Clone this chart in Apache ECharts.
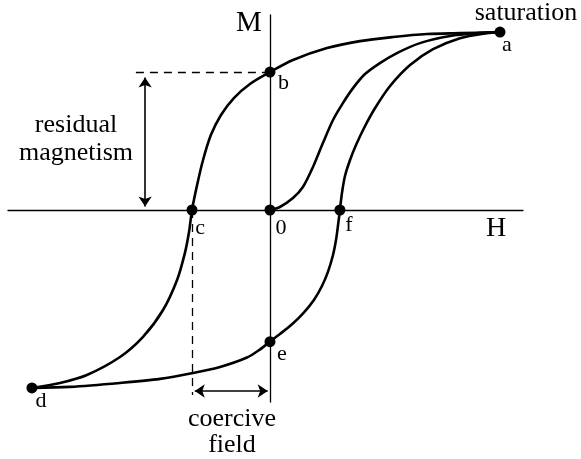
<!DOCTYPE html>
<html>
<head>
<meta charset="utf-8">
<script src="https://cdn.jsdelivr.net/npm/echarts@6/dist/echarts.min.js"></script>
<style>
  html, body { margin: 0; padding: 0; background: #fff; }
  #chart { width: 581px; height: 459px; }
</style>
</head>
<body>
<div id="chart"></div>
<script>
// H 单位: a 点 = 1, M 单位: 饱和 = 1
// 上支 a -> b -> c -> d
const upperBranch = [
  [1.00, 1.00], [0.826, 0.994], [0.683, 0.989], [0.535, 0.972], [0.391, 0.949],
  [0.248, 0.910], [0.10, 0.843], [0, 0.775], [-0.087, 0.708], [-0.157, 0.629],
  [-0.213, 0.534], [-0.257, 0.421], [-0.291, 0.281], [-0.317, 0.140], [-0.339, 0],
  [-0.352, -0.124], [-0.37, -0.242], [-0.404, -0.393], [-0.465, -0.562],
  [-0.552, -0.713], [-0.652, -0.826], [-0.796, -0.927], [-0.913, -0.972], [-1.035, -1.00]
]
// 下支 d -> e -> f -> a
const lowerBranch = [
  [-1.035, -1.00], [-0.87, -0.994], [-0.652, -0.972], [-0.478, -0.949], [-0.335, -0.916],
  [-0.217, -0.882], [-0.10, -0.829], [-0.043, -0.783], [0, -0.74], [0.043, -0.697],
  [0.096, -0.642], [0.148, -0.575], [0.191, -0.506], [0.226, -0.427], [0.252, -0.348],
  [0.274, -0.253], [0.287, -0.169], [0.296, -0.084], [0.304, 0], [0.313, 0.096],
  [0.326, 0.191], [0.348, 0.281], [0.374, 0.365], [0.409, 0.461], [0.457, 0.573],
  [0.522, 0.697], [0.609, 0.815], [0.709, 0.904], [0.826, 0.966], [0.943, 0.994], [1.00, 1.00]
]
// 初始磁化曲线 0 -> a
const initialCurve = [
  [0, 0], [0.043, 0.017], [0.10, 0.067], [0.143, 0.129], [0.187, 0.242], [0.23, 0.376],
  [0.274, 0.506], [0.317, 0.601], [0.361, 0.685], [0.413, 0.764], [0.478, 0.826],
  [0.552, 0.882], [0.652, 0.938], [0.783, 0.978], [0.90, 0.994], [1.00, 1.00]
]
// 标记点
const pointNames = ['a', 'b', 'c', '0', 'f', 'e', 'd']
const pointValues = [
  [1.00, 1.00], [0, 0.775], [-0.339, 0], [0, 0], [0.304, 0], [0, -0.74], [-1.035, -1.00]
]
const residualLevel = 0.775
const coerciveField = -0.339

const myChart = echarts.init(document.getElementById('chart'))

const serif = 'Liberation Serif'
const black = '#000'

// 标签相对于点符号左上角的位置
const labelPos = {
  a: [12.5, 19], b: [19, 17], c: [13.5, 23.5], '0': [16.5, 23.5], f: [14.5, 20.5], e: [17.5, 18], d: [14.5, 19]
}

const curve = (data) => ({
  type: 'line',
  data: data,
  smooth: 0.3,
  symbol: 'none',
  lineStyle: { color: black, width: 2.6 },
  z: 3
})

const option = {
  animation: false,
  grid: { left: 8, right: 58, top: 15, bottom: 57 },
  xAxis: {
    type: 'value',
    min: -1.139,
    max: 1.1,
    axisLine: { onZero: true, lineStyle: { color: black, width: 1.3 } },
    axisTick: { show: false },
    axisLabel: { show: false },
    splitLine: { show: false }
  },
  yAxis: {
    type: 'value',
    min: -1.079,
    max: 1.096,
    axisLine: { onZero: true, lineStyle: { color: black, width: 1.3 } },
    axisTick: { show: false },
    axisLabel: { show: false },
    splitLine: { show: false }
  },
  series: [
    curve(upperBranch),
    curve(lowerBranch),
    curve(initialCurve),
    {
      // 虚线
      type: 'lines',
      coordinateSystem: 'cartesian2d',
      symbol: 'none',
      lineStyle: { color: black, width: 1.3, type: [8, 6], opacity: 1 },
      data: [
        { coords: [[-0.583, residualLevel], [0, residualLevel]] },
        { coords: [[coerciveField, 0], [coerciveField, -1.04]] }
      ]
    },
    {
      // 双向箭头
      type: 'lines',
      coordinateSystem: 'cartesian2d',
      symbol: ['arrow', 'arrow'],
      symbolSize: 10,
      lineStyle: { color: black, width: 1.6, opacity: 1 },
      data: [
        { coords: [[-0.543, residualLevel - 0.03], [-0.543, 0.02]] },
        { coords: [[coerciveField + 0.012, -1.017], [-0.01, -1.017]] }
      ]
    },
    {
      type: 'scatter',
      symbolSize: 11,
      itemStyle: { color: black, opacity: 1 },
      z: 5,
      data: pointNames.map((n, i) => ({
        name: n,
        value: pointValues[i],
        label: {
          show: true,
          formatter: n,
          position: labelPos[n],
          align: 'center',
          verticalAlign: 'middle',
          color: black,
          fontFamily: serif,
          fontSize: 22
        }
      }))
    }
  ],
  graphic: [
    { type: 'text', x: 249, y: 23, style: { text: 'M', font: '29px ' + serif, fill: black, align: 'center', verticalAlign: 'middle' } },
    { type: 'text', x: 496, y: 229, style: { text: 'H', font: '28px ' + serif, fill: black, align: 'center', verticalAlign: 'middle' } },
    { type: 'text', x: 526, y: 13, style: { text: 'saturation', font: '26px ' + serif, fill: black, align: 'center', verticalAlign: 'middle' } },
    { type: 'text', x: 76, y: 125, style: { text: 'residual', font: '26px ' + serif, fill: black, align: 'center', verticalAlign: 'middle' } },
    { type: 'text', x: 76, y: 153, style: { text: 'magnetism', font: '26px ' + serif, fill: black, align: 'center', verticalAlign: 'middle' } },
    { type: 'text', x: 232, y: 419, style: { text: 'coercive', font: '26px ' + serif, fill: black, align: 'center', verticalAlign: 'middle' } },
    { type: 'text', x: 232, y: 445, style: { text: 'field', font: '26px ' + serif, fill: black, align: 'center', verticalAlign: 'middle' } }
  ]
}
myChart.setOption(option)
</script>
</body>
</html>
